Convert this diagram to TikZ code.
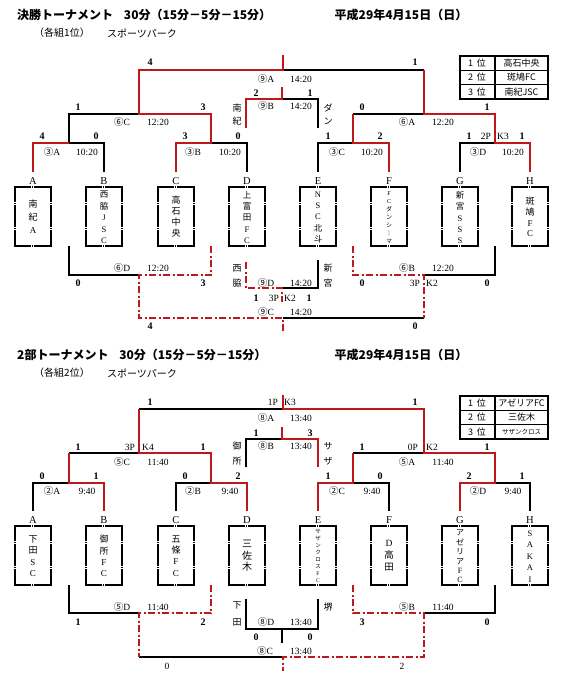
\documentclass[tikz,border=0pt]{standalone}
\usepackage{fontspec}
\setmainfont{Liberation Serif}
\newfontfamily\jp{Noto Sans CJK JP}
\definecolor{rd}{RGB}{190,24,28}
\begin{document}
\begin{tikzpicture}[x=1pt,y=-1pt,
 blk/.style={line width=1.8pt, black, line join=miter},
 rln/.style={line width=2.8pt, rd, line join=miter},
 rdd/.style={line width=1.8pt, rd, dash pattern=on 7pt off 2.5pt on 2pt off 2.5pt},
 sc/.style={font=\bfseries\fontsize{10}{12}\selectfont, inner sep=0pt},
 scn/.style={font=\fontsize{9.5}{11}\selectfont, inner sep=0pt},
 lb/.style={font=\fontsize{9.5}{11}\selectfont, inner sep=0pt},
 jv/.style={font=\jp\fontsize{9}{11}\selectfont, inner sep=0pt},
 bx/.style={draw, line width=2.2pt, minimum width=36pt, minimum height=59pt, inner sep=0pt},
 bl/.style={font=\fontsize{10.5}{12}\selectfont, inner sep=0pt},
 bt/.style={align=center, inner sep=0pt},
 ttl/.style={font=\jp\bfseries\fontsize{12}{14}\selectfont, inner sep=0pt, anchor=west},
 sub/.style={font=\jp\fontsize{10}{12}\selectfont, inner sep=0pt},
 tbl/.style={font=\jp\fontsize{9}{11}\selectfont, inner sep=0pt},
]
\useasboundingbox (0,0) rectangle (566,686);
\fill[white] (0,0) rectangle (566,686);

% ================= TOP HALF =================
\node[ttl] (t1) at (17,15) {決勝トーナメント\hspace{0.9em}30分（15分－5分－15分）};
\node[ttl, anchor=center] (d1) at (401,15) {平成29年4月15日（日）};
\node[sub] (s1a) at (62,33) {（各組1位）};
\node[sub] (s1b) at (142,33) {スポーツパーク};

% table
\draw[line width=1.5pt] (460,56) rectangle (548,99);
\draw[line width=1.5pt] (460,70.3) -- (548,70.3) (460,84.7) -- (548,84.7) (495,56) -- (495,99);
\node[tbl] (r11) at (477,63) {1\hspace{0.4em}位};
\node[tbl] (r12) at (521.5,63) {高石中央};
\node[tbl] (r21) at (477,77.5) {2\hspace{0.4em}位};
\node[tbl] (r22) at (521.5,77.5) {斑鳩FC};
\node[tbl] (r31) at (477,92) {3\hspace{0.4em}位};
\node[tbl] (r32) at (521.5,92) {南紀JSC};

% boxes
\foreach \x/\l in {33/A,104/B,176/C,247/D,318/E,389/F,460/G,530/H}{
  \node[bx] (b1\l) at (\x,216.5) {};
  \node[bl] (l1\l) at (\x,181) {\l};
  \draw[white,line width=0.5pt] (\x-20,202)--(\x-16,202) (\x-20,204)--(\x-16,204)
     (\x+16,202)--(\x+20,202) (\x+16,204)--(\x+20,204)
     (\x-20,227)--(\x-16,227) (\x-20,229)--(\x-16,229)
     (\x+16,227)--(\x+20,227) (\x+16,229)--(\x+20,229)
     (\x-2,185)--(\x-2,189) (\x,185)--(\x,189)
     (\x-2,244)--(\x-2,248) (\x,244)--(\x,248);
}
\node[bt, font=\fontsize{9}{13}\selectfont] (n1A) at (33,217) {{\jp 南}\\{\jp 紀}\\A};
\node[bt, font=\fontsize{8.5}{11.4}\selectfont] (n1B) at (104,217.5) {{\jp 西}\\{\jp 脇}\\J\\S\\C};
\node[bt, font=\fontsize{9}{11}\selectfont] (n1C) at (176,217) {{\jp 高}\\{\jp 石}\\{\jp 中}\\{\jp 央}};
\node[bt, font=\fontsize{8.5}{11.4}\selectfont] (n1D) at (247,217.5) {{\jp 上}\\{\jp 富}\\{\jp 田}\\F\\C};
\node[bt, font=\fontsize{8.5}{11.4}\selectfont] (n1E) at (318,217.5) {N\\S\\C\\{\jp 北}\\{\jp 斗}};
\node[bt, font=\fontsize{6}{8.1}\selectfont] (n1F) at (389,217.5) {F\\C\\{\jp ダ}\\{\jp ン}\\{\jp シ}\\{\jp ｜}\\{\jp マ}};
\node[bt, font=\fontsize{8.5}{11.4}\selectfont] (n1G) at (460,217.5) {{\jp 新}\\{\jp 宮}\\S\\S\\S};
\node[bt, font=\fontsize{9}{10.7}\selectfont] (n1H) at (530,217) {{\jp 斑}\\{\jp 鳩}\\F\\C};

% upper bracket - black
\draw[blk] (283,70) -- (424,70);
\draw[blk] (69,143) -- (69,114) -- (139,114);
\draw[blk] (69,143) -- (104,143) -- (104,172);
\draw[blk] (211,143) -- (247,143) -- (247,172);
\draw[blk] (353,114) -- (424,114);
\draw[blk] (318,172) -- (318,143) -- (353,143);
\draw[blk] (460,172) -- (460,143) -- (495,143);
\draw[blk] (282,99) -- (318,99) -- (318,128);
% upper bracket - red
\draw[rln] (283,55) -- (283,70) -- (139,70) -- (139,114) -- (211,114) -- (211,143) -- (176,143) -- (176,172);
\draw[rln] (69,143) -- (33,143) -- (33,172);
\draw[rln] (424,70) -- (424,114) -- (495,114) -- (495,143) -- (530,143) -- (530,172);
\draw[rln] (353,114) -- (353,143) -- (389,143) -- (389,172);
\draw[rln] (282,87) -- (282,99) -- (246,99) -- (246,128);
% lower bracket - black
\draw[blk] (69,246) -- (69,275) -- (139,275);
\draw[blk] (283,318) -- (424,318);
\draw[blk] (424,275) -- (495,275) -- (495,246);
\draw[blk] (282,288) -- (318,288) -- (318,260);
% lower bracket - red dash dot
\draw[rdd] (211,246) -- (211,275) -- (139,275) -- (139,318) -- (283,318) -- (283,333);
\draw[rdd] (353,246) -- (353,275) -- (424,275) -- (424,318);
\draw[rdd] (246,262) -- (246,288) -- (282,288) -- (282,302);

% scores
\node[sc] (a1) at (150,62) {4};
\node[sc] (a2) at (415,62) {1};
\node[sc] (a3) at (256,93) {2};
\node[sc] (a4) at (310,93) {1};
\node[sc] (a5) at (78,107) {1};
\node[sc] (a6) at (203,107) {3};
\node[sc] (a7) at (362,107) {0};
\node[sc] (a8) at (487,107) {1};
\node[sc] (a9) at (42,136) {4};
\node[sc] (a10) at (96,136) {0};
\node[sc] (a11) at (185,136) {3};
\node[sc] (a12) at (238,136) {0};
\node[sc] (a13) at (328,136) {1};
\node[sc] (a14) at (380,136) {2};
\node[sc] (a15) at (469,136) {1};
\node[scn] (a16) at (486,136) {2P};
\node[scn] (a17) at (503,136) {K3};
\node[sc] (a18) at (522,136) {1};
\node[sc] (a19) at (78,283) {0};
\node[sc] (a20) at (203,283) {3};
\node[sc] (a21) at (362,283) {0};
\node[scn] (a22) at (415,283) {3P};
\node[scn] (a23) at (432,283) {K2};
\node[sc] (a24) at (487,283) {0};
\node[sc] (a25) at (256,298) {1};
\node[scn] (a26) at (274,298) {3P};
\node[scn] (a27) at (290,298) {K2};
\node[sc] (a28) at (309,298) {1};
\node[sc] (a29) at (150,326) {4};
\node[sc] (a30) at (415,326) {0};

% match labels
\node[lb] (m1) at (266,79) {{\jp ⑨}A};  \node[lb] (m1t) at (301,79) {14:20};
\node[lb] (m2) at (266,106) {{\jp ⑨}B}; \node[lb] (m2t) at (301,106) {14:20};
\node[lb] (m3) at (122,122) {{\jp ⑥}C}; \node[lb] (m3t) at (158,122) {12:20};
\node[lb] (m4) at (407,122) {{\jp ⑥}A}; \node[lb] (m4t) at (443,122) {12:20};
\node[lb] (m5) at (52,152) {{\jp ③}A};  \node[lb] (m5t) at (87,152) {10:20};
\node[lb] (m6) at (193,152) {{\jp ③}B}; \node[lb] (m6t) at (230,152) {10:20};
\node[lb] (m7) at (337,152) {{\jp ③}C}; \node[lb] (m7t) at (372,152) {10:20};
\node[lb] (m8) at (478,152) {{\jp ③}D}; \node[lb] (m8t) at (513,152) {10:20};
\node[lb] (m9) at (122,268) {{\jp ⑥}D}; \node[lb] (m9t) at (158,268) {12:20};
\node[lb] (m10) at (407,268) {{\jp ⑥}B}; \node[lb] (m10t) at (443,268) {12:20};
\node[lb] (m11) at (266,283) {{\jp ⑨}D}; \node[lb] (m11t) at (301,283) {14:20};
\node[lb] (m12) at (266,312) {{\jp ⑨}C}; \node[lb] (m12t) at (301,312) {14:20};

% side vertical texts
\node[jv] (v1) at (237,108) {南}; \node[jv] (v2) at (237,121) {紀};
\node[jv] (v3) at (328,108) {ダ}; \node[jv] (v4) at (328,121) {ン};
\node[jv] (v5) at (237,268) {西}; \node[jv] (v6) at (237,283) {脇};
\node[jv] (v7) at (328,268) {新}; \node[jv] (v8) at (328,283) {宮};

% ================= BOTTOM HALF =================
\node[ttl] (t2) at (17,355) {2部トーナメント\hspace{0.9em}30分（15分－5分－15分）};
\node[ttl, anchor=center] (d2) at (401,355) {平成29年4月15日（日）};
\node[sub] (s2a) at (62,373) {（各組2位）};
\node[sub] (s2b) at (142,373) {スポーツパーク};

\draw[line width=1.5pt] (460,396) rectangle (548,439);
\draw[line width=1.5pt] (460,410.3) -- (548,410.3) (460,424.7) -- (548,424.7) (495,396) -- (495,439);
\node[tbl] (q11) at (477,403) {1\hspace{0.4em}位};
\node[tbl] (q12) at (521.5,403) {アゼリアFC};
\node[tbl] (q21) at (477,417.5) {2\hspace{0.4em}位};
\node[tbl] (q22) at (521.5,417.5) {三佐木};
\node[tbl] (q31) at (477,432) {3\hspace{0.4em}位};
\node[tbl, font=\jp\fontsize{6.5}{8}\selectfont] (q32) at (521.5,432) {サザンクロス};

\foreach \x/\l in {33/A,104/B,176/C,247/D,318/E,389/F,460/G,530/H}{
  \node[bx] (b2\l) at (\x,555.5) {};
  \node[bl] (l2\l) at (\x,520) {\l};
  \draw[white,line width=0.5pt] (\x-20,541)--(\x-16,541) (\x-20,543)--(\x-16,543)
     (\x+16,541)--(\x+20,541) (\x+16,543)--(\x+20,543)
     (\x-20,566)--(\x-16,566) (\x-20,568)--(\x-16,568)
     (\x+16,566)--(\x+20,566) (\x+16,568)--(\x+20,568)
     (\x-2,524)--(\x-2,528) (\x,524)--(\x,528)
     (\x-2,583)--(\x-2,587) (\x,583)--(\x,587);
}
\node[bt, font=\fontsize{9}{11.3}\selectfont] (n2A) at (33,556) {{\jp 下}\\{\jp 田}\\S\\C};
\node[bt, font=\fontsize{9}{11.3}\selectfont] (n2B) at (104,556) {{\jp 御}\\{\jp 所}\\F\\C};
\node[bt, font=\fontsize{9}{11.3}\selectfont] (n2C) at (176,556) {{\jp 五}\\{\jp 條}\\F\\C};
\node[bt, font=\fontsize{10}{11.5}\selectfont] (n2D) at (247,556) {{\jp 三}\\{\jp 佐}\\{\jp 木}};
\node[bt, font=\fontsize{5.5}{6.9}\selectfont] (n2E) at (318,556) {{\jp サ}\\{\jp ザ}\\{\jp ン}\\{\jp ク}\\{\jp ロ}\\{\jp ス}\\F\\C};
\node[bt, font=\fontsize{9.5}{12}\selectfont] (n2F) at (389,556) {D\\{\jp 高}\\{\jp 田}};
\node[bt, font=\fontsize{8}{9.4}\selectfont] (n2G) at (460,556.5) {{\jp ア}\\{\jp ゼ}\\{\jp リ}\\{\jp ア}\\F\\C};
\node[bt, font=\fontsize{8.5}{11.4}\selectfont] (n2H) at (530,556.5) {S\\A\\K\\A\\I};

% upper bracket - black
\draw[blk] (139,409) -- (283,409);
\draw[blk] (69,453) -- (139,453);
\draw[blk] (33,511) -- (33,483) -- (69,483);
\draw[blk] (176,511) -- (176,483) -- (211,483);
\draw[blk] (353,453) -- (424,453);
\draw[blk] (353,483) -- (389,483) -- (389,511);
\draw[blk] (495,483) -- (530,483) -- (530,511);
\draw[blk] (246,467) -- (246,439) -- (282,439);
% upper bracket - red
\draw[rln] (283,395) -- (283,409) -- (424,409) -- (424,453) -- (495,453) -- (495,483) -- (460,483) -- (460,511);
\draw[rln] (139,409) -- (139,453) -- (211,453) -- (211,483) -- (247,483) -- (247,511);
\draw[rln] (69,453) -- (69,483) -- (104,483) -- (104,511);
\draw[rln] (353,453) -- (353,483) -- (318,483) -- (318,511);
\draw[rln] (282,427) -- (282,439) -- (318,439) -- (318,467);
% lower bracket - black
\draw[blk] (69,585) -- (69,613) -- (139,613);
\draw[blk] (139,657) -- (283,657);
\draw[blk] (424,613) -- (495,613) -- (495,585);
\draw[blk] (246,599) -- (246,629) -- (318,629) -- (318,599);
\draw[blk] (282,629) -- (282,643);
% lower bracket - red dash dot
\draw[rdd] (211,585) -- (211,613) -- (139,613) -- (139,657);
\draw[rdd] (353,585) -- (353,613) -- (424,613) -- (424,657) -- (283,657) -- (283,671);

% scores
\node[sc] (c1) at (150,402) {1};
\node[scn] (c2) at (273,402) {1P};
\node[scn] (c3) at (290,402) {K3};
\node[sc] (c4) at (415,402) {1};
\node[sc] (c5) at (256,433) {1};
\node[sc] (c6) at (310,433) {3};
\node[sc] (c7) at (78,447) {1};
\node[scn] (c8) at (130,447) {3P};
\node[scn] (c9) at (148,447) {K4};
\node[sc] (c10) at (203,447) {1};
\node[sc] (c11) at (362,447) {1};
\node[scn] (c12) at (413,447) {0P};
\node[scn] (c13) at (432,447) {K2};
\node[sc] (c14) at (487,447) {1};
\node[sc] (c15) at (42,476) {0};
\node[sc] (c16) at (96,476) {1};
\node[sc] (c17) at (185,476) {0};
\node[sc] (c18) at (238,476) {2};
\node[sc] (c19) at (328,476) {1};
\node[sc] (c20) at (380,476) {0};
\node[sc] (c21) at (469,476) {2};
\node[sc] (c22) at (522,476) {1};
\node[sc] (c23) at (78,622) {1};
\node[sc] (c24) at (203,622) {2};
\node[sc] (c25) at (362,622) {3};
\node[sc] (c26) at (487,622) {0};
\node[sc] (c27) at (256,637) {0};
\node[sc] (c28) at (310,637) {0};
\node[scn] (c29) at (167,666) {0};
\node[scn] (c30) at (402,666) {2};

% match labels
\node[lb] (k1) at (266,418) {{\jp ⑧}A};  \node[lb] (k1t) at (301,418) {13:40};
\node[lb] (k2) at (266,446) {{\jp ⑧}B};  \node[lb] (k2t) at (301,446) {13:40};
\node[lb] (k3) at (122,462) {{\jp ⑤}C};  \node[lb] (k3t) at (158,462) {11:40};
\node[lb] (k4) at (407,462) {{\jp ⑤}A};  \node[lb] (k4t) at (443,462) {11:40};
\node[lb] (k5) at (52,491) {{\jp ②}A};   \node[lb] (k5t) at (87,491) {9:40};
\node[lb] (k6) at (193,491) {{\jp ②}B};  \node[lb] (k6t) at (230,491) {9:40};
\node[lb] (k7) at (337,491) {{\jp ②}C};  \node[lb] (k7t) at (372,491) {9:40};
\node[lb] (k8) at (478,491) {{\jp ②}D};  \node[lb] (k8t) at (513,491) {9:40};
\node[lb] (k9) at (122,607) {{\jp ⑤}D};  \node[lb] (k9t) at (158,607) {11:40};
\node[lb] (k10) at (407,607) {{\jp ⑤}B}; \node[lb] (k10t) at (443,607) {11:40};
\node[lb] (k11) at (266,622) {{\jp ⑧}D}; \node[lb] (k11t) at (301,622) {13:40};
\node[lb] (k12) at (265,651) {{\jp ⑧}C}; \node[lb] (k12t) at (301,651) {13:40};

\node[jv] (w1) at (237,446) {御}; \node[jv] (w2) at (237,461) {所};
\node[jv] (w3) at (328,446) {サ}; \node[jv] (w4) at (328,461) {ザ};
\node[jv] (w5) at (237,605) {下}; \node[jv] (w6) at (237,622) {田};
\node[jv] (w7) at (328,607) {堺};
\end{tikzpicture}
\end{document}
